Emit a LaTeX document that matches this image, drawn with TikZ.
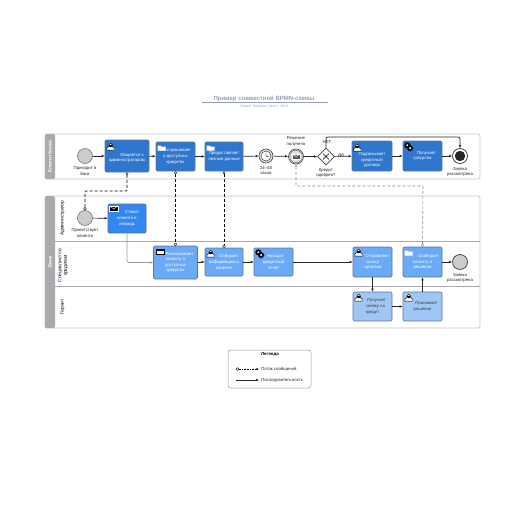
\documentclass[tikz,border=0pt]{standalone}
\usepackage{fontspec}
\setmainfont{Liberation Sans}
\usepackage{xcolor}
\usetikzlibrary{shapes.geometric,arrows.meta,positioning,calc}
\definecolor{poolgray}{RGB}{168,170,173}
\definecolor{framegray}{RGB}{196,198,202}
\definecolor{taskdark}{RGB}{46,118,206}
\definecolor{taskbright}{RGB}{50,135,240}
\definecolor{taskmid}{RGB}{106,170,248}
\definecolor{tasklight}{RGB}{160,198,245}
\definecolor{taskedge}{RGB}{96,118,148}
\definecolor{titleblue}{RGB}{150,158,180}
\tikzset{
    pooltext/.style={font=\fontsize{4.8}{5.6}\selectfont\bfseries, align=center, rotate=90},
    lanetext/.style={font=\fontsize{4.8}{5.6}\selectfont, align=center, rotate=90},
    tasktext/.style={rectangle, rounded corners=1.2pt, draw=taskedge, line width=0.6pt, text=white, align=center, inner sep=0pt, font=\fontsize{4.3}{5.6}\selectfont},
    taskA/.style={tasktext, fill=taskdark},
    taskB/.style={tasktext, fill=taskmid},
    taskC/.style={tasktext, fill=tasklight, text=black!75},
    evstart/.style={circle, minimum size=15pt, inner sep=0pt, draw=black!60, line width=0.5pt, fill=black!20},
    lbl/.style={font=\fontsize{4.3}{5.2}\selectfont, align=center, text=black!85, inner sep=0pt},
    flow/.style={-{Latex[length=3pt,width=2.6pt]}, line width=0.7pt, color=black!85},
    msg/.style={densely dashed, line width=0.6pt, {Diamond[length=3pt,width=2.8pt,fill=white,line width=0.35pt,sep=0pt]}-{Circle[length=3pt,width=3pt,fill=white,line width=0.35pt]}},
    pics/usericon/.style={code={
        \fill[white,draw=black,line width=0.45pt] (-3.8,3.4) -- (-3.8,1.2) -- (-2,0) -- (2,0) -- (3.8,1.2) -- (3.8,3.4) -- cycle;
        \fill[white,draw=black,line width=0.45pt] (0,-1.6) circle (1.9);
        \fill[black] (-1.9,-1.6) arc (180:360:1.9 and -1.9) -- cycle;
    }},
    pics/mailicon/.style={code={
        \fill[#1,draw=white,line width=0.4pt] (-4.2,-2.8) rectangle (4.2,2.8);
        \draw[white,line width=0.4pt] (-4.2,-2.8) -- (0,0.3) -- (4.2,-2.8);
    }},
    pics/mailopen/.style={code={
        \fill[white,draw=black,line width=0.5pt] (-4.2,-2.8) rectangle (4.2,2.8);
        \draw[black,line width=0.5pt] (-4.2,-1.6) -- (4.2,-1.6);
    }},
    pics/gearicon/.style={code={
        \draw[black,line width=0.8pt,dash pattern=on 1pt off 0.8pt] (-1.4,-1.4) circle (2.8);
        \fill[black] (-1.4,-1.4) circle (2.6);
        \fill[white] (-1.4,-1.4) circle (1.1);
        \draw[black,line width=0.8pt,dash pattern=on 1pt off 0.8pt] (1.4,1.4) circle (2.8);
        \fill[black] (1.4,1.4) circle (2.6);
        \fill[white] (1.4,1.4) circle (1.1);
    }},
    pics/foldericon/.style={code={
        \fill[white] (-4,3) -- (-4,-2.2) -- (-1.2,-2.2) -- (-0.4,-1.2) -- (4,-1.2) -- (4,3) -- cycle;
    }}
}
\begin{document}
\begin{tikzpicture}[x=1pt, y=-1pt]
    \useasboundingbox[fill=white] (0,0) rectangle (516,516);

    % Title
    \node[font=\fontsize{6}{7}\selectfont\bfseries, color=titleblue] (title) at (264,98.5) {Пример совместной BPMN-схемы};
    \draw[color=titleblue, line width=0.5pt] (202,102.5) -- (328,102.5);
    \node[font=\fontsize{3.4}{4}\selectfont, color=titleblue] (subtitle) at (264,106.5) {System Template | April 4, 2019};

    % Pools
    \draw[color=framegray, line width=0.7pt, rounded corners=2pt] (45,134) rectangle (480,179);
    \fill[color=poolgray, rounded corners=1.5pt] (45,134) rectangle (55,179);
    \node[pooltext, text=white] (clientpool) at (50,156.5) {Клиент банка};

    \draw[color=framegray, line width=0.7pt, rounded corners=2pt] (45,196) rectangle (480,328);
    \fill[color=poolgray, rounded corners=1.5pt] (45,196) rectangle (55,328);
    \node[pooltext, text=white] (bankpool) at (50,262) {Банк};
    \draw[color=poolgray, line width=0.8pt] (55,241) -- (480,241);
    \draw[color=poolgray, line width=0.8pt] (55,286) -- (480,286);
    \node[lanetext] (adminlane) at (62.5,218) {Администратор};
    \node[lanetext] (speclane) at (63,265.5) {Специалист по\\кредитам};
    \node[lanetext] (guarlane) at (62.5,307) {Гарант};

    % Client bank
    \node[evstart] (start) at (85,156) {};
    \node[lbl, below=3pt of start] (startlbl) {Приходит в\\банк};
    \node[taskA, minimum width=44pt, minimum height=32pt] (talk) at (127,156) {\\[1pt]\hspace*{10pt}Общается с\\администратором};
    \node[taskA, minimum width=39pt, minimum height=29pt] (ask) at (175.5,156.5) {Расспрашивает\\о доступных\\кредитах};
    \node[taskA, minimum width=38pt, minimum height=29pt] (give) at (224,156.5) {Предоставляет\\личные данные};
    \node[circle, minimum size=14pt, inner sep=0pt, draw=black!75, line width=0.6pt, fill=black!12] (timer) at (266,156) {};
    \node[circle, minimum size=10pt, inner sep=0pt, draw=black!75, line width=0.5pt, fill=white] (timerin) at (timer) {};
    \draw[line width=0.4pt] (timer.center) -- ++(0,-3.5) (timer.center) -- ++(2.5,1);
    \node[lbl, below=3pt of timer] (timerlbl) {24–48\\часов};
    \node[circle, minimum size=15pt, inner sep=0pt, draw=black!75, line width=0.6pt, fill=black!12] (got) at (296,156.5) {};
    \node[circle, minimum size=12.5pt, inner sep=0pt, draw=black!60, line width=0.4pt] (gotin) at (got) {};
    \pic at (got) {mailicon=black!65};
    \node[lbl, above=2.5pt of got] (gotlbl) {Решение\\получено};
    \node[diamond, minimum size=17pt, inner sep=0pt, draw=black!75, line width=0.6pt, fill=white] (gate) at (326,156.5) {};
    \draw[line width=0.6pt] ($(gate)+(-3,-3)$) -- ($(gate)+(3,3)$) ($(gate)+(-3,3)$) -- ($(gate)+(3,-3)$);
    \node[lbl] (nolbl) at (327,142) {НЕТ};
    \node[lbl] (yeslbl) at (341,155) {ДА};
    \node[lbl, below=3pt of gate] (gatelbl) {Кредит\\одобрен?};
    \node[taskA, minimum width=40pt, minimum height=30pt] (sign) at (372,156) {\\[6pt]Подписывает\\кредитный\\договор};
    \node[taskA, minimum width=39pt, minimum height=30pt] (money) at (422.5,156) {\hspace*{8pt}Получает\\средства};
    \node[circle, minimum size=15pt, inner sep=0pt, draw=black!80, line width=0.7pt, fill=white] (done) at (460,156) {};
    \fill[black!85] (done) circle (5.2);
    \node[lbl, below=3pt of done] (donelbl) {Заявка\\рассмотрена};

    % Admin lane
    \node[evstart] (greet) at (85,218) {};
    \node[lbl, below=3pt of greet] (greetlbl) {Приветствует\\клиента};
    \node[taskB, fill=taskbright, minimum width=38pt, minimum height=29pt] (queue) at (127,218.5) {\hspace*{10pt}Ставит\\клиента в\\очередь};

    % Specialist lane
    \node[taskB, minimum width=44pt, minimum height=33pt] (tell) at (175.5,262.5) {\hspace*{8pt}Рассказывает\\клиенту о\\доступных\\кредитах};
    \node[taskB, minimum width=38pt, minimum height=28pt] (collect) at (224,262) {\hspace*{10pt}Собирает\\информацию о\\клиенте};
    \node[taskB, minimum width=39pt, minimum height=28pt] (report) at (273.5,262) {\hspace*{4pt}Находит\\кредитный\\отчет};
    \node[taskB, minimum width=39pt, minimum height=30pt] (send) at (372.5,262) {\hspace*{10pt}Отправляет\\заявку\\гарантам};
    \node[taskB, minimum width=39pt, minimum height=30pt] (inform) at (422.5,262) {\hspace*{12pt}Сообщает\\клиенту о\\решении};
    \node[evstart, draw=black!75, line width=0.7pt] (closed) at (460,262) {};
    \node[lbl, below=3pt of closed] (closedlbl) {Заявка\\рассмотрена};

    % Guarantor lane
    \node[taskC, minimum width=39pt, minimum height=29pt] (receive) at (372.5,306.5) {\hspace*{8pt}Получает\\\hspace*{6pt}заявку на\\кредит};
    \node[taskC, minimum width=39pt, minimum height=29pt] (decide) at (422.5,306.5) {\hspace*{8pt}Принимает\\решение};

    % Icons
    \pic at ($(talk.north west)+(6,7)$) {usericon};
    \pic at ($(ask.north west)+(6,6)$) {foldericon};
    \pic at ($(give.north west)+(6,6)$) {foldericon};
    \pic at ($(sign.north west)+(5.5,7)$) {usericon};
    \pic at ($(money.north west)+(6,6)$) {gearicon};
    \pic at ($(queue.north west)+(6,5)$) {mailicon=black};
    \pic at ($(tell.north west)+(7,6)$) {mailopen};
    \pic at ($(collect.north west)+(6,6)$) {usericon};
    \pic at ($(report.north west)+(6,6)$) {gearicon};
    \pic at ($(send.north west)+(6,6)$) {usericon};
    \pic at ($(inform.north west)+(6,6)$) {foldericon};
    \pic at ($(receive.north west)+(6,6)$) {usericon};
    \pic at ($(decide.north west)+(6,6)$) {usericon};

    % Sequence flows
    \draw[flow] (start) -- (talk);
    \draw[flow] (talk) -- (ask);
    \draw[flow] (ask) -- (give);
    \draw[flow] (give) -- (timer);
    \draw[flow] (timer) -- (got);
    \draw[flow] (got) -- (gate);
    \draw[flow] (gate) -- (sign);
    \draw[flow] (sign) -- (money);
    \draw[flow] (money) -- (done);
    \draw[flow, rounded corners=2pt] (gate.north) |- (393,137) -| (done.north);
    \draw[flow] (greet) -- (queue);
    \draw[flow, color=black!40, rounded corners=2pt] (queue.south) |- (tell.west);
    \draw[flow] (tell.east |- collect) -- (collect);
    \draw[flow] (collect) -- (report);
    \draw[flow] (report) -- (send);
    \draw[flow] (inform) -- (closed);
    \draw[flow] (send) -- (receive);
    \draw[flow] (receive) -- (decide);
    \draw[flow] (decide) -- (inform);

    % Message flows
    \draw[msg, rounded corners=1pt] (talk.south) |- (85,191) -- (greet.north);
    \draw[msg] (ask.south) -- (tell.north -| ask.south);
    \draw[msg] (give.south) -- (collect.north);
    \draw[msg, color=black!45, rounded corners=1pt] (got.south) |- (423,186) -- (inform.north);

    % Legend
    \draw[color=black!40, line width=0.5pt, rounded corners=3pt] (228,350) rectangle (311,388);
    \node[font=\fontsize{4.4}{5}\selectfont\bfseries] (legendtitle) at (270,354) {Легенда};
    \node[lbl, anchor=west] (legmsg) at (261,369) {Поток сообщений};
    \node[lbl, anchor=west] (legseq) at (261,380) {Последовательность};
    \coordinate (legmsgstart) at (236,369);
    \coordinate (legseqstart) at (236,380);
    \draw[densely dotted, line width=0.6pt, {Circle[length=3pt,width=3pt,fill=white,line width=0.35pt]}-{Latex[length=2.4pt,width=2.2pt]}] (legmsgstart) -- ([xshift=-2pt]legmsg.west);
    \draw[flow] (legseqstart) -- ([xshift=-2pt]legseq.west);
\end{tikzpicture}
\end{document}
